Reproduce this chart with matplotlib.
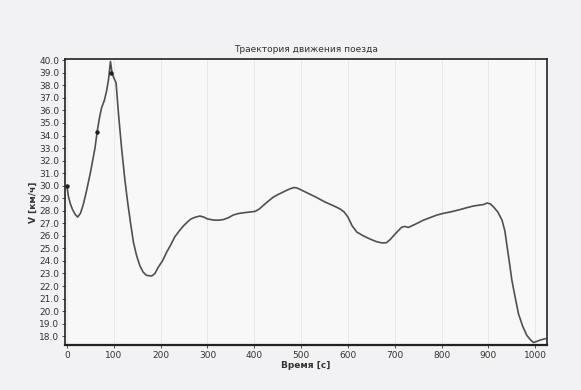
import matplotlib
matplotlib.use("Agg")
import matplotlib.pyplot as plt

t = [0, 3, 7, 12, 18, 23, 29, 35, 42, 50, 56, 60, 65, 70, 74, 80, 85, 89, 93,
     96, 99, 105, 110, 117, 124, 130, 136, 142, 149, 156, 163, 170, 181, 188,
     195, 204, 213, 222, 230, 240, 249, 257, 265, 275, 284, 292, 300, 313,
     324, 334, 345, 355, 366, 377, 390, 402, 411, 420, 431, 441, 451, 462,
     473, 484, 491, 498, 509, 520, 531, 541, 551, 560, 572, 583, 592, 600,
     609, 619, 633, 647, 660, 672, 682, 690, 702, 715, 722, 729, 745, 761,
     775, 790, 804, 818, 829, 840, 854, 868, 882, 890, 897, 904, 911, 920,
     929, 935, 940, 945, 950, 957, 964, 973, 982, 990, 996, 1004, 1011, 1021]
v = [30.0, 29.2, 28.6, 28.1, 27.7, 27.5, 27.8, 28.5, 29.6, 31.0, 32.2, 33.0,
     34.4, 35.5, 36.2, 36.8, 37.6, 38.5, 39.9, 39.1, 38.7, 38.2, 35.8, 32.9,
     30.4, 28.6, 27.0, 25.5, 24.4, 23.6, 23.1, 22.85, 22.8, 23.0, 23.5, 24.0,
     24.7, 25.3, 25.9, 26.4, 26.8, 27.1, 27.35, 27.5, 27.58, 27.5, 27.35,
     27.26, 27.25, 27.3, 27.45, 27.66, 27.78, 27.84, 27.9, 27.95, 28.15, 28.45,
     28.8, 29.1, 29.3, 29.5, 29.7, 29.85, 29.82, 29.7, 29.5, 29.3, 29.1, 28.9,
     28.7, 28.55, 28.35, 28.15, 27.9, 27.5, 26.8, 26.3, 26.0, 25.75, 25.55,
     25.44, 25.45, 25.7, 26.2, 26.7, 26.75, 26.67, 26.95, 27.25, 27.45, 27.66,
     27.8, 27.9, 28.0, 28.1, 28.25, 28.38, 28.46, 28.5, 28.62, 28.55, 28.3,
     27.9, 27.25, 26.4, 25.1, 23.8, 22.46, 21.1, 19.8, 18.8, 18.06, 17.7,
     17.5, 17.6, 17.7, 17.8]
mark_t = [0, 64, 94]
mark_v = [30.0, 34.3, 39.0]
yticks = [18 + i for i in range(23)]
xticks = [0, 100, 200, 300, 400, 500, 600, 700, 800, 900, 1000]

fig = plt.figure(figsize=(5.81, 3.90), dpi=100, facecolor='#f2f2f4')
ax = fig.add_axes([0.1119, 0.1154, 0.8296, 0.7333])
ax.set_facecolor('#f8f8f9')
ax.plot(t, v, color='#505050', lw=1.2, solid_joinstyle='round')
ax.plot(mark_t, mark_v, 'o', color='#222222', ms=2.2)
ax.set_xlim(-4, 1025)
ax.set_ylim(17.3, 40.1)
ax.set_xticks(xticks)
ax.set_yticks(yticks)
ax.set_yticklabels([f"{y:.1f}" for y in yticks])
ax.tick_params(labelsize=6.5, length=2.5, width=0.6, colors='#333333', pad=1.5)
for s in ax.spines.values():
    s.set_linewidth(1.2)
    s.set_color('#222222')
ax.spines['bottom'].set_linewidth(1.6)
for xt in xticks:
    ax.axvline(xt, color='#e6e6ea', lw=0.6, zorder=0)
ax.set_title("Траектория движения поезда", fontsize=6.5, color='#333333', pad=5)
ax.set_xlabel("Время [с]", fontsize=6.5, fontweight='bold', color='#333333', labelpad=1)
ax.set_ylabel("V [км/ч]", fontsize=6.5, fontweight='bold', color='#333333', labelpad=1)
fig.savefig("out.png", dpi=100, facecolor=fig.get_facecolor())
